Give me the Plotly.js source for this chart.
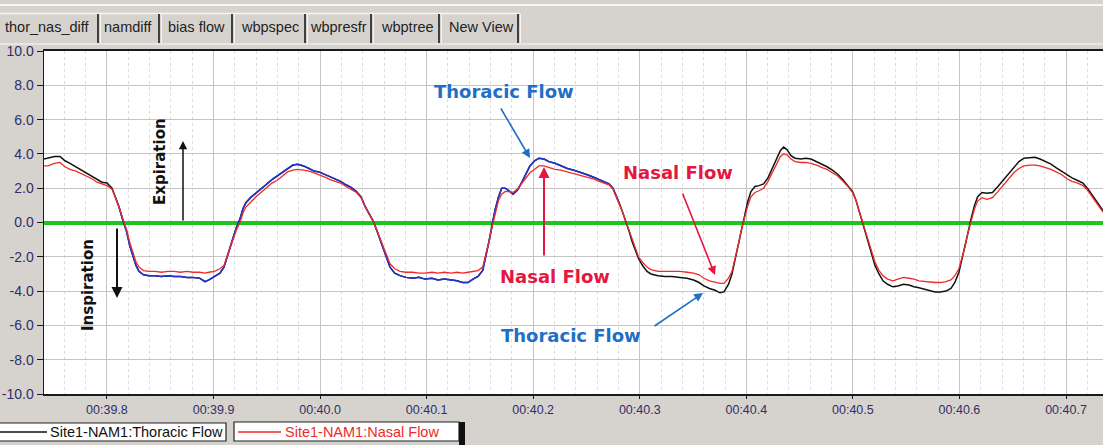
<!DOCTYPE html>
<html><head><meta charset="utf-8">
<script src="https://cdn.plot.ly/plotly-3.0.1.min.js"></script>
<style>html,body{margin:0;padding:0;background:#d6d3ce;overflow:hidden}#chart{width:1103px;height:445px}</style>
</head><body><div id="chart"></div>
<script>
// ---- data (seconds, flow) ----
const time = [39.7409,39.7446,39.7506,39.7559,39.7606,39.7653,39.7709,39.7756,39.7803,39.7859,39.7906,39.7953,39.8000,39.8047,39.8084,39.8113,39.8150,39.8183,39.8216,39.8244,39.8272,39.8300,39.8343,39.8394,39.8450,39.8511,39.8572,39.8629,39.8690,39.8751,39.8807,39.8869,39.8920,39.8957,39.9009,39.9060,39.9098,39.9126,39.9154,39.9188,39.9217,39.9248,39.9276,39.9304,39.9347,39.9398,39.9445,39.9492,39.9548,39.9595,39.9642,39.9695,39.9745,39.9792,39.9844,39.9896,39.9943,39.9990,40.0046,40.0093,40.0140,40.0192,40.0243,40.0290,40.0341,40.0384,40.0421,40.0459,40.0501,40.0540,40.0581,40.0618,40.0656,40.0700,40.0750,40.0806,40.0869,40.0928,40.0984,40.1050,40.1106,40.1167,40.1228,40.1285,40.1336,40.1388,40.1435,40.1482,40.1526,40.1557,40.1585,40.1613,40.1641,40.1675,40.1704,40.1735,40.1773,40.1810,40.1853,40.1894,40.1932,40.1969,40.2013,40.2054,40.2101,40.2148,40.2204,40.2260,40.2321,40.2382,40.2439,40.2500,40.2561,40.2617,40.2670,40.2711,40.2748,40.2777,40.2809,40.2839,40.2871,40.2899,40.2927,40.2955,40.2988,40.3030,40.3068,40.3105,40.3171,40.3236,40.3302,40.3377,40.3443,40.3505,40.3556,40.3602,40.3654,40.3706,40.3753,40.3790,40.3833,40.3865,40.3893,40.3921,40.3950,40.3982,40.4012,40.4043,40.4081,40.4119,40.4162,40.4203,40.4241,40.4278,40.4320,40.4350,40.4381,40.4419,40.4457,40.4510,40.4560,40.4607,40.4659,40.4710,40.4757,40.4808,40.4860,40.4907,40.4954,40.4997,40.5029,40.5057,40.5085,40.5113,40.5146,40.5176,40.5207,40.5245,40.5282,40.5325,40.5376,40.5423,40.5474,40.5526,40.5573,40.5620,40.5676,40.5723,40.5770,40.5822,40.5873,40.5920,40.5957,40.5995,40.6023,40.6052,40.6080,40.6108,40.6141,40.6171,40.6211,40.6258,40.6310,40.6361,40.6408,40.6455,40.6509,40.6558,40.6605,40.6662,40.6709,40.6756,40.6807,40.6859,40.6906,40.6957,40.7009,40.7056,40.7109,40.7159,40.7206,40.7258,40.7309,40.7347];
const thoracic = [3.7,3.75,3.85,3.85,3.6,3.45,3.25,3.05,2.9,2.7,2.5,2.35,2.3,2.0,1.4,0.9,0.1,-0.5,-1.4,-2.0,-2.5,-2.85,-3.05,-3.1,-3.1,-3.15,-3.1,-3.15,-3.15,-3.2,-3.2,-3.25,-3.45,-3.35,-3.15,-2.95,-2.6,-2.0,-1.4,-0.8,-0.25,0.2,0.8,1.15,1.45,1.7,1.95,2.2,2.5,2.7,2.9,3.15,3.35,3.4,3.3,3.15,3.0,2.95,2.8,2.65,2.55,2.4,2.2,2.05,1.8,1.5,0.95,0.5,0.05,-0.6,-1.3,-2.0,-2.6,-2.95,-3.1,-3.2,-3.25,-3.2,-3.3,-3.25,-3.35,-3.3,-3.35,-3.4,-3.5,-3.5,-3.3,-3.15,-2.8,-2.0,-1.1,-0.2,0.7,1.5,2.0,2.0,1.85,1.65,1.9,2.35,2.8,3.3,3.6,3.75,3.7,3.55,3.45,3.3,3.15,3.05,2.95,2.8,2.65,2.5,2.4,2.25,2.0,1.6,1.1,0.6,0.05,-0.5,-1.1,-1.6,-2.1,-2.55,-2.85,-3.0,-3.1,-3.15,-3.15,-3.2,-3.25,-3.35,-3.5,-3.7,-3.85,-3.95,-4.1,-4.05,-3.6,-3.0,-2.2,-1.3,-0.4,0.5,1.2,1.8,2.1,2.15,2.25,2.6,3.1,3.6,4.2,4.4,4.25,3.9,3.75,3.7,3.75,3.7,3.55,3.4,3.25,3.05,2.8,2.5,2.15,1.8,1.3,0.7,0.15,-0.5,-1.2,-1.9,-2.5,-3.0,-3.4,-3.6,-3.75,-3.7,-3.6,-3.65,-3.75,-3.8,-3.9,-3.95,-4.05,-4.05,-4.0,-3.85,-3.5,-2.9,-2.2,-1.4,-0.6,0.2,1.0,1.5,1.75,1.7,1.75,2.1,2.45,2.85,3.25,3.55,3.75,3.8,3.8,3.7,3.55,3.4,3.2,3.0,2.8,2.6,2.45,2.3,1.95,1.5,1.0,0.7];
const nasal = [3.3,3.3,3.45,3.5,3.25,3.1,3.0,2.85,2.7,2.55,2.35,2.25,2.15,1.95,1.4,0.9,0.2,-0.4,-1.2,-1.8,-2.3,-2.6,-2.8,-2.85,-2.85,-2.9,-2.85,-2.85,-2.9,-2.85,-2.9,-2.9,-2.95,-2.9,-2.85,-2.7,-2.5,-2.0,-1.5,-1.0,-0.4,0.0,0.55,0.9,1.2,1.5,1.75,2.0,2.3,2.45,2.7,2.95,3.05,3.1,3.05,3.0,2.9,2.8,2.65,2.5,2.4,2.3,2.1,1.95,1.75,1.45,0.95,0.5,0.05,-0.55,-1.2,-1.85,-2.4,-2.7,-2.85,-2.9,-2.9,-2.95,-2.95,-2.9,-2.95,-2.9,-2.95,-2.9,-2.95,-2.9,-2.85,-2.8,-2.6,-1.9,-1.1,-0.3,0.5,1.3,1.65,1.8,1.8,1.75,1.95,2.3,2.6,2.9,3.1,3.3,3.3,3.2,3.1,3.05,2.95,2.85,2.75,2.65,2.55,2.4,2.3,2.2,1.95,1.55,1.1,0.6,0.05,-0.45,-1.0,-1.5,-2.0,-2.35,-2.6,-2.75,-2.85,-2.85,-2.85,-2.85,-2.9,-2.95,-3.05,-3.25,-3.4,-3.5,-3.55,-3.55,-3.25,-2.85,-2.2,-1.4,-0.5,0.3,0.95,1.5,1.75,1.85,2.0,2.4,2.9,3.4,3.85,4.0,3.95,3.7,3.55,3.5,3.5,3.45,3.35,3.2,3.1,2.9,2.7,2.4,2.1,1.75,1.3,0.7,0.15,-0.45,-1.1,-1.75,-2.3,-2.8,-3.1,-3.3,-3.4,-3.3,-3.2,-3.25,-3.3,-3.4,-3.45,-3.45,-3.5,-3.5,-3.45,-3.35,-3.1,-2.7,-2.1,-1.4,-0.6,0.1,0.8,1.25,1.45,1.35,1.45,1.8,2.15,2.5,2.9,3.15,3.3,3.35,3.35,3.3,3.2,3.1,2.95,2.8,2.55,2.4,2.3,2.15,1.85,1.4,0.9,0.6];
const blueSpan = [39.8084, 40.2809];
const xTickVals = [39.8,39.9,40.0,40.1,40.2,40.3,40.4,40.5,40.6,40.7];
const xTickText = ["00:39.8","00:39.9","00:40.0","00:40.1","00:40.2","00:40.3","00:40.4","00:40.5","00:40.6","00:40.7"];
const yTickVals = [10,8,6,4,2,0,-2,-4,-6,-8,-10];
const yTickText = ["10.0","8.0","6.0","4.0","2.0","0.0","-2.0","-4.0","-6.0","-8.0","-10.0"];
const tabLabels = ["thor_nas_diff","namdiff","bias flow","wbpspec","wbpresfr","wbptree","New View"];
const legendLabels = ["Site1-NAM1:Thoracic Flow","Site1-NAM1:Nasal Flow"];

// ---- helpers: pixel -> paper coords ----
const L=44, R=1103, T=51, B=394;
const px = p => (p-L)/(R-L);
const py = p => (B-p)/(B-T);

const blueX=[], blueY=[];
time.forEach((t,i)=>{ if(t>=blueSpan[0] && t<=blueSpan[1]){ blueX.push(t); blueY.push(thoracic[i]); } });

const traces = [
  {x:time, y:thoracic, type:'scatter', mode:'lines', name:legendLabels[0], line:{color:'#111111', width:1.5}, hoverinfo:'skip'},
  {x:blueX, y:blueY, type:'scatter', mode:'lines', name:'thoracic-blue', line:{color:'#2233d6', width:1.5}, hoverinfo:'skip'},
  {x:time, y:nasal, type:'scatter', mode:'lines', name:legendLabels[1], line:{color:'#ee2a2a', width:1.3}, hoverinfo:'skip'}
];

const shapes = [];
const annotations = [];
// top tab strip
shapes.push({type:'line', xref:'paper', yref:'paper', x0:px(0), x1:px(1103), y0:py(5), y1:py(5), line:{color:'#f6f5f2', width:2}});
shapes.push({type:'line', xref:'paper', yref:'paper', x0:px(0), x1:px(520), y0:py(13.5), y1:py(13.5), line:{color:'#f6f5f2', width:1.5}});
shapes.push({type:'line', xref:'paper', yref:'paper', x0:px(0), x1:px(1103), y0:py(44), y1:py(44), line:{color:'#eeece8', width:1.5}});
const seps = [98,159,232,305,371,439,518];
seps.forEach(s=>{
  shapes.push({type:'line', xref:'paper', yref:'paper', x0:px(s), x1:px(s), y0:py(14), y1:py(43), line:{color:'#404040', width:2}});
  shapes.push({type:'line', xref:'paper', yref:'paper', x0:px(s+2.5), x1:px(s+2.5), y0:py(14), y1:py(43), line:{color:'#f6f5f2', width:1}});
});
const tabCenters = [92,128,196,270,338,407,481];
tabLabels.forEach((lab,i)=>{
  annotations.push({xref:'paper', yref:'paper', x:px(tabCenters[i]), y:py(27), text:lab, showarrow:false,
    xanchor: i===0?'right':'center', yanchor:'middle', font:{family:'Liberation Sans, Arial, sans-serif', size:14.5, color:'#222'}});
});
// legend boxes
shapes.push({type:'rect', xref:'paper', yref:'paper', x0:px(-10), x1:px(226), y0:py(441), y1:py(423), fillcolor:'#ffffff', line:{color:'#222', width:1.2}});
shapes.push({type:'line', xref:'paper', yref:'paper', x0:px(0), x1:px(47), y0:py(432), y1:py(432), line:{color:'#111', width:1.3}});
shapes.push({type:'rect', xref:'paper', yref:'paper', x0:px(234), x1:px(459), y0:py(441), y1:py(422), fillcolor:'#ffffff', line:{color:'#222', width:1.2}});
shapes.push({type:'rect', xref:'paper', yref:'paper', x0:px(459), x1:px(465), y0:py(446), y1:py(422), fillcolor:'#111', line:{width:0}});
shapes.push({type:'line', xref:'paper', yref:'paper', x0:px(238), x1:px(281), y0:py(432), y1:py(432), line:{color:'#ee2a2a', width:1.3}});
annotations.push({xref:'paper', yref:'paper', x:px(48), y:py(432), text:legendLabels[0], showarrow:false, xanchor:'left', yanchor:'middle', font:{family:'Liberation Sans, Arial, sans-serif', size:14.5, color:'#111'}});
annotations.push({xref:'paper', yref:'paper', x:px(283), y:py(432), text:legendLabels[1], showarrow:false, xanchor:'left', yanchor:'middle', font:{family:'Liberation Sans, Arial, sans-serif', size:14.5, color:'#ee2a2a'}});

// chart call-outs
const BLUE='#1f6fc6', RED='#e3173f';
const bold = (c,s)=>({family:'DejaVu Sans, sans-serif', size:s, color:c, weight:'bold'});
const label = (x,y,t,c,s,ang)=>({xref:'paper', yref:'paper', x:px(x), y:py(y), text:'<b>'+t+'</b>', showarrow:false, xanchor:'center', yanchor:'middle', textangle:ang||0, font:bold(c,s)});
annotations.push(label(504,91,'Thoracic Flow',BLUE,18));
annotations.push(label(678,172,'Nasal Flow',RED,18));
annotations.push(label(555,276,'Nasal Flow',RED,18));
annotations.push(label(571,335,'Thoracic Flow',BLUE,18));
annotations.push(label(160,162,'Expiration','#111',15,-90));
annotations.push(label(88,285,'Inspiration','#111',15,-90));
const arrow = (hx,hy,tx,ty,c,w)=>({xref:'paper', yref:'paper', x:px(hx), y:py(hy), ax:tx-hx, ay:ty-hy, text:'', showarrow:true, arrowhead:2, arrowsize:1.1, arrowwidth:w, arrowcolor:c});
annotations.push(arrow(530,158,500,107,BLUE,1.6));
annotations.push(arrow(715,275,682,192,RED,1.6));
annotations.push(arrow(544,167,544,257,RED,2));
annotations.push(arrow(703,293,653,327,BLUE,1.6));
annotations.push(arrow(183,141,183,222,'#111',1.5));
annotations.push(arrow(117,298,117,227,'#111',2));

const layout = {
  width:1103, height:445,
  margin:{l:L, r:1103-R, t:T, b:445-B, pad:0},
  paper_bgcolor:'#d6d3ce', plot_bgcolor:'#ffffff',
  showlegend:false,
  font:{family:'Liberation Sans, Arial, sans-serif'},
  xaxis:{range:[39.7409,40.7347], tickmode:'array', tickvals:xTickVals, ticktext:xTickText,
    showgrid:true, gridcolor:'#c4c4c4', gridwidth:1, zeroline:false,
    showline:true, linecolor:'#1a1a1a', linewidth:2, mirror:true,
    ticks:'outside', ticklen:3, tickcolor:'#1a1a1a', tickwidth:1,
    tickfont:{family:'Liberation Sans, Arial, sans-serif', size:12.5, color:'#2e2e6a'},
    minor:{tickmode:'linear', tick0:39.8, dtick:0.02, showgrid:true, gridcolor:'#dcdcdc', griddash:'dot', gridwidth:1, ticks:''},
    fixedrange:true},
  yaxis:{range:[-10,10], tickmode:'array', tickvals:yTickVals, ticktext:yTickText,
    showgrid:true, gridcolor:'#c4c4c4', gridwidth:1,
    zeroline:true, zerolinecolor:'#1ec51e', zerolinewidth:4,
    showline:true, linecolor:'#1a1a1a', linewidth:1.5,
    ticks:'outside', ticklen:6, tickcolor:'#1a1a1a', tickwidth:1,
    tickfont:{family:'Liberation Sans, Arial, sans-serif', size:14, color:'#2e2e6a'},
    fixedrange:true},
  shapes:shapes, annotations:annotations
};
Plotly.newPlot('chart', traces, layout, {displayModeBar:false, staticPlot:true});
</script></body></html>
